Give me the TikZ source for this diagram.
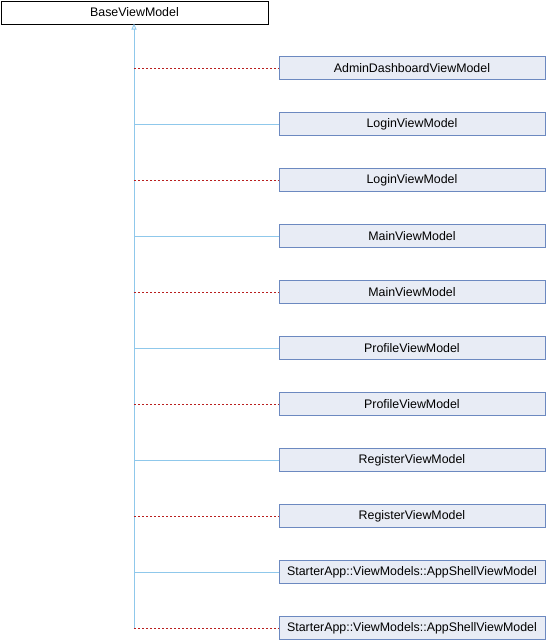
\documentclass[tikz,border=0pt]{standalone}
\usepackage{fontspec}
\setmainfont{Liberation Sans}
\usetikzlibrary{arrows.meta}
\definecolor{boxfill}{RGB}{232,236,245}
\definecolor{boxline}{RGB}{108,137,192}
\definecolor{inherit}{RGB}{143,200,235}
\definecolor{realize}{RGB}{185,30,30}
\tikzset{
  every node/.style={font=\fontsize{12.4}{14}\selectfont, inner sep=0pt},
  basebox/.style={draw=black, line width=0.9pt, fill=white, minimum width=267pt, minimum height=23pt, anchor=north west},
  classbox/.style={draw=boxline, line width=0.9pt, fill=boxfill, minimum width=266pt, minimum height=23pt, anchor=west},
  pubedge/.style={draw=inherit, line width=0.9pt},
  impledge/.style={draw=realize, line width=0.9pt, dash pattern=on 2pt off 2pt},
}
\begin{document}
\begin{tikzpicture}[x=1pt,y=-1pt]
\useasboundingbox (0,0) rectangle (546,640);
\node[basebox] (base) at (0.5,0.5) {BaseViewModel};
\coordinate (trunk) at (134,628);
\draw[pubedge, -{Triangle[open,width=5pt,length=6pt]}] (trunk) -- (134,23.5);
\foreach \i/\txt/\kind in {
  1/AdminDashboardViewModel/impledge,
  2/LoginViewModel/pubedge,
  3/LoginViewModel/impledge,
  4/MainViewModel/pubedge,
  5/MainViewModel/impledge,
  6/ProfileViewModel/pubedge,
  7/ProfileViewModel/impledge,
  8/RegisterViewModel/pubedge,
  9/RegisterViewModel/impledge,
  10/StarterApp::ViewModels::AppShellViewModel/pubedge,
  11/StarterApp::ViewModels::AppShellViewModel/impledge} {
  \pgfmathsetmacro{\yy}{12+56*\i}
  \node[classbox] (c\i) at (278.5,\yy) {\txt};
  \coordinate (j\i) at (134,\yy);
  \draw[\kind] (j\i) -- (c\i.west);
}
\end{tikzpicture}
\end{document}
